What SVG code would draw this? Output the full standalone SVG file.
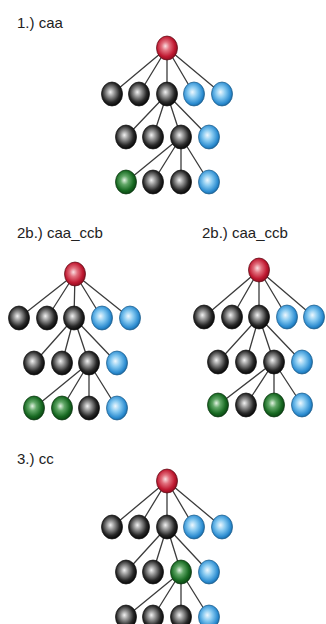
<svg xmlns="http://www.w3.org/2000/svg" width="326" height="624" viewBox="0 0 326 624">
  <style>
    .lbl { font-family: "Liberation Sans", Arial, sans-serif; font-size: 15px; fill: #222; }
    .edge { stroke: #3c3c3c; stroke-width: 1.3; fill: none; }
    .ball { stroke: #111; stroke-width: 0.7; }
    .k { fill: url(#gK); }
    .b { fill: url(#gB); stroke: #1a5a88; }
    .g { fill: url(#gG); stroke: #0a340e; }
    .r { fill: url(#gR); stroke: #5a0a14; }
  </style>
  <defs>
    <radialGradient id="gK" cx="0.46" cy="0.45" r="0.58" fx="0.42" fy="0.42">
      <stop offset="0" stop-color="#f2f2f2"/>
      <stop offset="0.3" stop-color="#9a9a9a"/>
      <stop offset="0.7" stop-color="#2a2a2a"/>
      <stop offset="1" stop-color="#000"/>
    </radialGradient>
    <radialGradient id="gB" cx="0.46" cy="0.45" r="0.58" fx="0.42" fy="0.42">
      <stop offset="0" stop-color="#eef8fe"/>
      <stop offset="0.4" stop-color="#84c8f0"/>
      <stop offset="0.8" stop-color="#2c8cd0"/>
      <stop offset="1" stop-color="#16629c"/>
    </radialGradient>
    <radialGradient id="gG" cx="0.46" cy="0.45" r="0.58" fx="0.42" fy="0.42">
      <stop offset="0" stop-color="#e2f2e2"/>
      <stop offset="0.32" stop-color="#62a868"/>
      <stop offset="0.72" stop-color="#186a22"/>
      <stop offset="1" stop-color="#083e10"/>
    </radialGradient>
    <radialGradient id="gR" cx="0.46" cy="0.45" r="0.58" fx="0.42" fy="0.42">
      <stop offset="0" stop-color="#fadfe2"/>
      <stop offset="0.32" stop-color="#e2707e"/>
      <stop offset="0.72" stop-color="#c01a32"/>
      <stop offset="1" stop-color="#860a1c"/>
    </radialGradient>
  </defs>

  <rect width="326" height="624" fill="#ffffff"/>

  <!-- titles -->
  <text class="lbl" x="17" y="28">1.) caa</text>
  <text class="lbl" x="17" y="238">2b.) caa_ccb</text>
  <text class="lbl" x="202" y="238">2b.) caa_ccb</text>
  <text class="lbl" x="17" y="464">3.) cc</text>

  <!-- connectors -->
  <g id="connectors" class="edge">
    <!-- tree 1 -->
    <path d="M167,48 L112,94 M167,48 L139,94 M167,48 L167,94 M167,48 L194,94 M167,48 L222,94"/>
    <path d="M167,94 L126,137 M167,94 L153,137 M167,94 L181,137 M167,94 L209,137"/>
    <path d="M181,137 L126,182 M181,137 L153,182 M181,137 L181,182 M181,137 L209,182"/>
    <!-- tree 2 left -->
    <path d="M75,274 L19,318 M75,274 L47,318 M75,274 L74,318 M75,274 L102,318 M75,274 L130,318"/>
    <path d="M74,318 L34,363 M74,318 L62,363 M74,318 L89,363 M74,318 L117,363"/>
    <path d="M89,363 L34,408 M89,363 L62,408 M89,363 L89,408 M89,363 L117,408"/>
    <!-- tree 2 right -->
    <path d="M259,270 L204,317 M259,270 L232,317 M259,270 L259,317 M259,270 L287,317 M259,270 L314,317"/>
    <path d="M259,317 L218,362 M259,317 L246,362 M259,317 L274,362 M259,317 L302,362"/>
    <path d="M274,362 L218,405 M274,362 L246,405 M274,362 L274,405 M274,362 L302,405"/>
    <!-- tree 3 -->
    <path d="M167,481 L112,527 M167,481 L139,527 M167,481 L167,527 M167,481 L194,527 M167,481 L222,527"/>
    <path d="M167,527 L126,572 M167,527 L153,572 M167,527 L181,572 M167,527 L209,572"/>
    <path d="M181,572 L126,617 M181,572 L153,617 M181,572 L181,617 M181,572 L209,617"/>
  </g>

  <!-- tree 1 -->
  <g id="t1-root"><ellipse class="ball r" cx="167" cy="48" rx="10.5" ry="12"/></g>
  <g id="t1-a1"><ellipse class="ball k" cx="112" cy="94" rx="10.5" ry="12"/></g>
  <g id="t1-a2"><ellipse class="ball k" cx="139" cy="94" rx="10.5" ry="12"/></g>
  <g id="t1-a3"><ellipse class="ball k" cx="167" cy="94" rx="10.5" ry="12"/></g>
  <g id="t1-a4"><ellipse class="ball b" cx="194" cy="94" rx="10.5" ry="12"/></g>
  <g id="t1-a5"><ellipse class="ball b" cx="222" cy="94" rx="10.5" ry="12"/></g>
  <g id="t1-b1"><ellipse class="ball k" cx="126" cy="137" rx="10.5" ry="12"/></g>
  <g id="t1-b2"><ellipse class="ball k" cx="153" cy="137" rx="10.5" ry="12"/></g>
  <g id="t1-b3"><ellipse class="ball k" cx="181" cy="137" rx="10.5" ry="12"/></g>
  <g id="t1-b4"><ellipse class="ball b" cx="209" cy="137" rx="10.5" ry="12"/></g>
  <g id="t1-c1"><ellipse class="ball g" cx="126" cy="182" rx="10.5" ry="12"/></g>
  <g id="t1-c2"><ellipse class="ball k" cx="153" cy="182" rx="10.5" ry="12"/></g>
  <g id="t1-c3"><ellipse class="ball k" cx="181" cy="182" rx="10.5" ry="12"/></g>
  <g id="t1-c4"><ellipse class="ball b" cx="209" cy="182" rx="10.5" ry="12"/></g>

  <!-- tree 2 left -->
  <g id="t2l-root"><ellipse class="ball r" cx="75" cy="274" rx="10.5" ry="12"/></g>
  <g id="t2l-a1"><ellipse class="ball k" cx="19" cy="318" rx="10.5" ry="12"/></g>
  <g id="t2l-a2"><ellipse class="ball k" cx="47" cy="318" rx="10.5" ry="12"/></g>
  <g id="t2l-a3"><ellipse class="ball k" cx="74" cy="318" rx="10.5" ry="12"/></g>
  <g id="t2l-a4"><ellipse class="ball b" cx="102" cy="318" rx="10.5" ry="12"/></g>
  <g id="t2l-a5"><ellipse class="ball b" cx="130" cy="318" rx="10.5" ry="12"/></g>
  <g id="t2l-b1"><ellipse class="ball k" cx="34" cy="363" rx="10.5" ry="12"/></g>
  <g id="t2l-b2"><ellipse class="ball k" cx="62" cy="363" rx="10.5" ry="12"/></g>
  <g id="t2l-b3"><ellipse class="ball k" cx="89" cy="363" rx="10.5" ry="12"/></g>
  <g id="t2l-b4"><ellipse class="ball b" cx="117" cy="363" rx="10.5" ry="12"/></g>
  <g id="t2l-c1"><ellipse class="ball g" cx="34" cy="408" rx="10.5" ry="12"/></g>
  <g id="t2l-c2"><ellipse class="ball g" cx="62" cy="408" rx="10.5" ry="12"/></g>
  <g id="t2l-c3"><ellipse class="ball k" cx="89" cy="408" rx="10.5" ry="12"/></g>
  <g id="t2l-c4"><ellipse class="ball b" cx="117" cy="408" rx="10.5" ry="12"/></g>

  <!-- tree 2 right -->
  <g id="t2r-root"><ellipse class="ball r" cx="259" cy="270" rx="10.5" ry="12"/></g>
  <g id="t2r-a1"><ellipse class="ball k" cx="204" cy="317" rx="10.5" ry="12"/></g>
  <g id="t2r-a2"><ellipse class="ball k" cx="232" cy="317" rx="10.5" ry="12"/></g>
  <g id="t2r-a3"><ellipse class="ball k" cx="259" cy="317" rx="10.5" ry="12"/></g>
  <g id="t2r-a4"><ellipse class="ball b" cx="287" cy="317" rx="10.5" ry="12"/></g>
  <g id="t2r-a5"><ellipse class="ball b" cx="314" cy="317" rx="10.5" ry="12"/></g>
  <g id="t2r-b1"><ellipse class="ball k" cx="218" cy="362" rx="10.5" ry="12"/></g>
  <g id="t2r-b2"><ellipse class="ball k" cx="246" cy="362" rx="10.5" ry="12"/></g>
  <g id="t2r-b3"><ellipse class="ball k" cx="274" cy="362" rx="10.5" ry="12"/></g>
  <g id="t2r-b4"><ellipse class="ball b" cx="302" cy="362" rx="10.5" ry="12"/></g>
  <g id="t2r-c1"><ellipse class="ball g" cx="218" cy="405" rx="10.5" ry="12"/></g>
  <g id="t2r-c2"><ellipse class="ball k" cx="246" cy="405" rx="10.5" ry="12"/></g>
  <g id="t2r-c3"><ellipse class="ball g" cx="274" cy="405" rx="10.5" ry="12"/></g>
  <g id="t2r-c4"><ellipse class="ball b" cx="302" cy="405" rx="10.5" ry="12"/></g>

  <!-- tree 3 -->
  <g id="t3-root"><ellipse class="ball r" cx="167" cy="481" rx="10.5" ry="12"/></g>
  <g id="t3-a1"><ellipse class="ball k" cx="112" cy="527" rx="10.5" ry="12"/></g>
  <g id="t3-a2"><ellipse class="ball k" cx="139" cy="527" rx="10.5" ry="12"/></g>
  <g id="t3-a3"><ellipse class="ball k" cx="167" cy="527" rx="10.5" ry="12"/></g>
  <g id="t3-a4"><ellipse class="ball b" cx="194" cy="527" rx="10.5" ry="12"/></g>
  <g id="t3-a5"><ellipse class="ball b" cx="222" cy="527" rx="10.5" ry="12"/></g>
  <g id="t3-b1"><ellipse class="ball k" cx="126" cy="572" rx="10.5" ry="12"/></g>
  <g id="t3-b2"><ellipse class="ball k" cx="153" cy="572" rx="10.5" ry="12"/></g>
  <g id="t3-b3"><ellipse class="ball g" cx="181" cy="572" rx="10.5" ry="12"/></g>
  <g id="t3-b4"><ellipse class="ball b" cx="209" cy="572" rx="10.5" ry="12"/></g>
  <g id="t3-c1"><ellipse class="ball k" cx="126" cy="617" rx="10.5" ry="12"/></g>
  <g id="t3-c2"><ellipse class="ball k" cx="153" cy="617" rx="10.5" ry="12"/></g>
  <g id="t3-c3"><ellipse class="ball k" cx="181" cy="617" rx="10.5" ry="12"/></g>
  <g id="t3-c4"><ellipse class="ball b" cx="209" cy="617" rx="10.5" ry="12"/></g>
</svg>
